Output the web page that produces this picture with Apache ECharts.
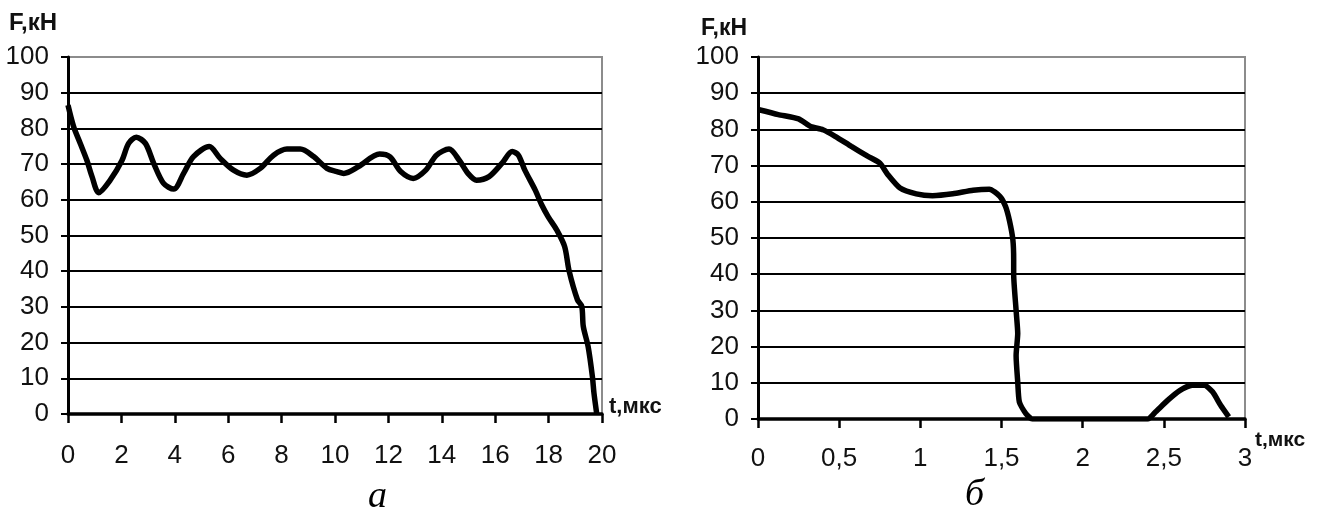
<!DOCTYPE html>
<html><head><meta charset="utf-8">
<script src="https://cdn.jsdelivr.net/npm/echarts@6/dist/echarts.min.js"></script>
<style>html,body{margin:0;padding:0;background:#fff}#c{width:1317px;height:517px}</style>
</head><body><div id="c"></div>
<script>
// Chart a: F(t), t in мкс, F in кН
const seriesA = [[0,86.5],[0.21,80.5],[0.46,75.8],[0.71,71],[0.9,66.5],[1.15,62],[1.58,65.5],[2.02,71],[2.27,75.8],[2.56,77.5],[2.9,75.8],[3.21,70.2],[3.58,64.6],[3.96,63],[4.33,67.4],[4.7,72.1],[5.29,74.9],[5.7,71.6],[6.2,68.3],[6.7,66.9],[7.2,68.8],[7.7,72.5],[8.2,74.2],[8.7,74.2],[9.2,72.1],[9.7,68.8],[10.07,67.9],[10.33,67.4],[10.88,69.3],[11.67,72.8],[12.06,72],[12.46,67.9],[12.93,66],[13.4,68.3],[13.8,72.5],[14.27,74.2],[14.66,71],[14.98,67.4],[15.3,65.5],[15.77,66.5],[16.25,70.2],[16.64,73.5],[16.87,72.5],[17.11,68.3],[17.5,62.7],[17.74,58.6],[17.98,55.3],[18.3,51.6],[18.6,46.9],[18.77,40],[19.08,32],[19.24,30.2],[19.3,24.5],[19.48,18.9],[19.64,10.5],[19.7,5.8],[19.8,0.2]];
// Chart б
const seriesB = [[0,85.5],[0.125,84.1],[0.25,82.9],[0.325,80.8],[0.4,79.9],[0.475,78.1],[0.575,75.3],[0.675,72.6],[0.75,70.7],[0.8,67.5],[0.875,63.8],[0.975,62.2],[1.075,61.7],[1.2,62.2],[1.325,63.2],[1.425,63.5],[1.49,61.5],[1.525,58.7],[1.55,54.6],[1.57,49.5],[1.575,44],[1.575,40],[1.59,30],[1.6,23.6],[1.59,17.5],[1.6,10.2],[1.61,4.7],[1.65,1.5],[1.69,0],[2.4,0],[2.45,2],[2.525,5.2],[2.6,7.9],[2.675,9.3],[2.75,9.3],[2.8,7.5],[2.85,3.8],[2.9,0.6]];
const xTicksA = {min:0, max:20, interval:2};
const xTicksB = {min:0, max:3, interval:0.5};
const yTicks = {min:0, max:100, interval:10};
const yTitle = 'F,кН';
const xTitle = 't,мкс';
const captions = ['а','б'];

const FONT = '"Liberation Sans Narrow", "Arial Narrow", "Liberation Sans", sans-serif';
const labelStyle = {color:'#111', fontFamily:FONT, fontSize:26};
function yAxis(gi){
  return {type:'value', gridIndex:gi, min:yTicks.min, max:yTicks.max, interval:yTicks.interval,
    axisLine:{show:true, lineStyle:{color:'#000', width:3}},
    axisTick:{show:true, length:7, lineStyle:{color:'#000', width:2}},
    axisLabel:Object.assign({margin:19}, labelStyle),
    splitLine:{show:true, showMaxLine:false, lineStyle:{color:'#000', width:2}}};
}
function xAxis(gi, t, fmt, margin){
  return {type:'value', gridIndex:gi, min:t.min, max:t.max, interval:t.interval,
    axisLine:{show:true, onZero:false, lineStyle:{color:'#000', width:3.5}},
    axisTick:{show:true, length:9, lineStyle:{color:'#000', width:2.5}},
    axisLabel:Object.assign({margin:margin, formatter:fmt}, labelStyle),
    splitLine:{show:false}};
}
const chart = echarts.init(document.getElementById('c'), null, {renderer:'canvas'});
chart.setOption({
  backgroundColor:'#fff',
  animation:false,
  grid:[
    {left:68, top:57, width:534, height:357, show:true, borderColor:'#8c8c8c', borderWidth:2, containLabel:false},
    {left:758, top:57, width:487, height:362, show:true, borderColor:'#8c8c8c', borderWidth:2, containLabel:false}
  ],
  xAxis:[xAxis(0, xTicksA, v=>String(v), 29), xAxis(1, xTicksB, v=>String(v).replace('.',','), 27)],
  yAxis:[yAxis(0), yAxis(1)],
  series:[
    {type:'line', xAxisIndex:0, yAxisIndex:0, data:seriesA, showSymbol:false, smooth:0.3,
      lineStyle:{color:'#000', width:5.5}},
    {type:'line', xAxisIndex:1, yAxisIndex:1, data:seriesB, showSymbol:false, smooth:0.2,
      lineStyle:{color:'#000', width:5.5}}
  ],
  graphic:[
    {type:'text', left:9, top:11, style:{text:yTitle, fontFamily:FONT, fontWeight:'bold', fontSize:24, fill:'#111'}},
    {type:'text', left:701, top:17, style:{text:yTitle, fontFamily:FONT, fontWeight:'bold', fontSize:23, fill:'#111'}},
    {type:'text', left:609, top:396, style:{text:xTitle, fontFamily:FONT, fontWeight:'bold', fontSize:22, fill:'#111'}},
    {type:'text', left:1255, top:430, style:{text:xTitle, fontFamily:FONT, fontWeight:'bold', fontSize:21, fill:'#111'}},
    {type:'text', left:368, top:478, style:{text:captions[0], fontFamily:'"Liberation Serif", "Times New Roman", serif', fontStyle:'italic', fontSize:38, fill:'#000'}},
    {type:'text', left:965, top:476, style:{text:captions[1], fontFamily:'"Liberation Serif", "Times New Roman", serif', fontStyle:'italic', fontSize:38, fill:'#000'}}
  ]
});
</script></body></html>
